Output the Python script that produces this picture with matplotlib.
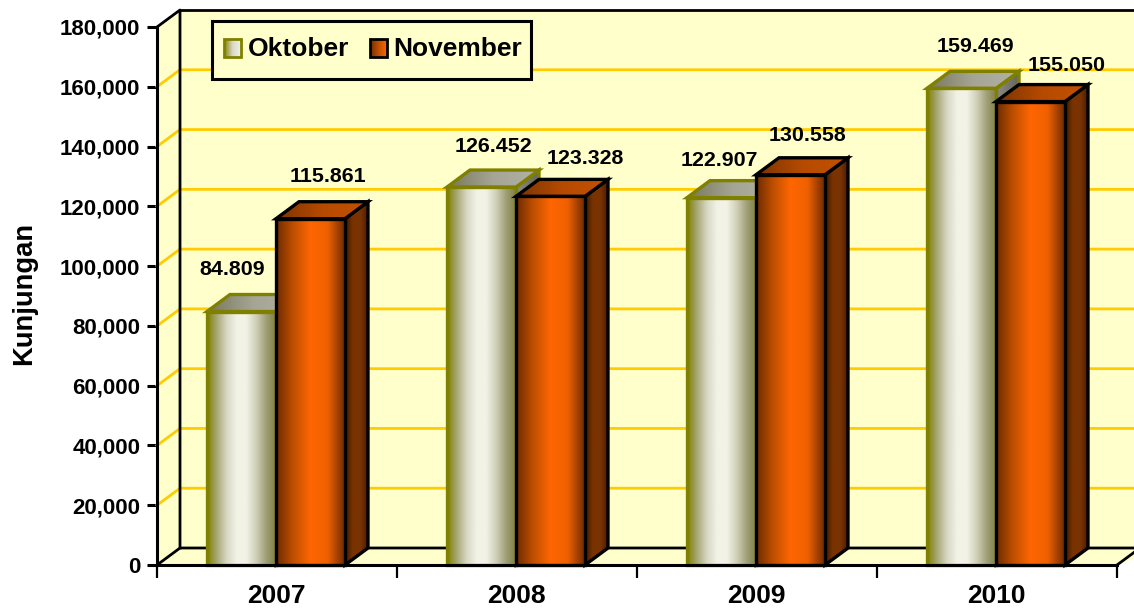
#!/usr/bin/env python3
import matplotlib
matplotlib.use('Agg')
import matplotlib.pyplot as plt
from matplotlib.colors import LinearSegmentedColormap
from matplotlib.patches import Polygon, Rectangle
import numpy as np

plt.rcParams['font.family'] = ['Liberation Sans', 'DejaVu Sans']
plt.rcParams['font.weight'] = 'bold'

# Data
years = ['2007', '2008', '2009', '2010']
series_names = ['Oktober', 'November']
oktober = [84809, 126452, 122907, 159469]
november = [115861, 123328, 130558, 155050]
y_ticks = list(range(0, 180001, 20000))

# label shift from the bar's front-top centre, in pixels (right, up)
oktober_shift = [(-9, 42), (12, 41), (-2, 37), (14, 42)]
november_shift = [(17, 42), (35, 38), (17, 39), (36, 36)]

# Layout
W, H = 1134, 610
AX_L, AX_R, AX_T, AX_B = 157, 1117, 27, 565
DEPTH_X = 23 / 240
YMAX = 180000
DEPTH_Y = 17 * YMAX / (AX_B - AX_T)
BAR_W = 69 / 240

WALL = '#ffffcc'
GRID = '#ffcc00'
OLIVE = '#808000'


def ramp(*colors):
    return LinearSegmentedColormap.from_list('r', colors)


OK_FRONT = ramp('#808000', '#a8a878', '#d8d8c4', '#f2f2e6', '#f2f2e6', '#d0d0b8', '#a0a078', '#808040')
OK_TOP = ramp('#77775c', '#a5a595', '#b2b2a6')
OK_SIDE = ramp('#8c8c80', '#66665a')
NOV_FRONT = ramp('#6e2c00', '#c04f00', '#ff6600', '#f06000', '#6e2c00')
NOV_TOP = ramp('#7a3300', '#b54a00', '#c45200')
NOV_SIDE = ramp('#3a1800', '#7a3300', '#7a3300', '#4a1e00')
OK_SWATCH = ramp('#808000', '#d8d8c4', '#f2f2e6')
NOV_SWATCH = ramp('#6e2c00', '#c04f00', '#ff6600')


def shaded(ax, pts, cmap, edge, z):
    """Polygon filled by a left-to-right gradient, with an outline."""
    pts = np.array(pts)
    grad = np.linspace(0, 1, 128).reshape(1, -1)
    extent = (pts[:, 0].min(), pts[:, 0].max(), pts[:, 1].min(), pts[:, 1].max())
    im = ax.imshow(grad, cmap=cmap, extent=extent, aspect='auto', zorder=z,
                   interpolation='bilinear')
    poly = Polygon(pts, closed=True, fill=False, edgecolor=edge, linewidth=2.4,
                   joinstyle='miter', zorder=z + 0.1, clip_on=False)
    ax.add_patch(poly)
    clip = Polygon(pts, closed=True, transform=ax.transData)
    im.set_clip_path(clip)


def bar3d(ax, x, value, cmaps, edge, z):
    x2 = x + BAR_W
    top = [(x, value), (x + DEPTH_X, value + DEPTH_Y),
           (x2 + DEPTH_X, value + DEPTH_Y), (x2, value)]
    side = [(x2, 0), (x2 + DEPTH_X, DEPTH_Y),
            (x2 + DEPTH_X, value + DEPTH_Y), (x2, value)]
    front = [(x, 0), (x2, 0), (x2, value), (x, value)]
    shaded(ax, side, cmaps[2], edge, z)
    shaded(ax, top, cmaps[1], edge, z + 0.2)
    shaded(ax, front, cmaps[0], edge, z + 0.4)


fig = plt.figure(figsize=(W / 100, H / 100), dpi=100, facecolor='white')
ax = fig.add_axes([AX_L / W, 1 - AX_B / H, (AX_R - AX_L) / W, (AX_B - AX_T) / H])
ax.patch.set_visible(False)

# back wall, side wall, floor
x_end = 4.2
ax.add_patch(Polygon([(DEPTH_X, DEPTH_Y), (x_end, DEPTH_Y), (x_end, YMAX + DEPTH_Y),
                      (DEPTH_X, YMAX + DEPTH_Y)], facecolor=WALL, edgecolor='none',
                     zorder=1, clip_on=False))
ax.add_patch(Polygon([(0, 0), (DEPTH_X, DEPTH_Y), (DEPTH_X, YMAX + DEPTH_Y), (0, YMAX)],
                     facecolor=WALL, edgecolor='none', zorder=1, clip_on=False))
ax.add_patch(Polygon([(0, 0), (DEPTH_X, DEPTH_Y), (x_end, DEPTH_Y), (4, 0)],
                     facecolor=WALL, edgecolor='none', zorder=1, clip_on=False))

for v in y_ticks[1:-1]:
    ax.plot([0, DEPTH_X, x_end], [v, v + DEPTH_Y, v + DEPTH_Y], color=GRID, lw=2.0,
            zorder=2, clip_on=False, solid_joinstyle='miter')

# wall outlines
line = dict(color='black', lw=2.0, zorder=3, clip_on=False)
ax.plot([0, DEPTH_X, DEPTH_X], [YMAX, YMAX + DEPTH_Y, DEPTH_Y], **line)
ax.plot([0, DEPTH_X, x_end], [0, DEPTH_Y, DEPTH_Y], **line)
ax.plot([DEPTH_X, x_end], [YMAX + DEPTH_Y] * 2, **line)
ax.plot([4, 4 + DEPTH_X], [0, DEPTH_Y], **line)

# bars
ok_cmaps = (OK_FRONT, OK_TOP, OK_SIDE)
nov_cmaps = (NOV_FRONT, NOV_TOP, NOV_SIDE)
for i in range(len(years)):
    centre = i + 0.5 - 1 / 240
    bar3d(ax, centre - BAR_W, oktober[i], ok_cmaps, OLIVE, 4 + i)
    bar3d(ax, centre, november[i], nov_cmaps, 'black', 4.6 + i)
    pairs = [(centre - BAR_W / 2, oktober[i], oktober_shift[i]),
             (centre + BAR_W / 2, november[i], november_shift[i])]
    for bx, val, shift in pairs:
        ax.annotate(f'{val:,}'.replace(',', '.'), xy=(bx, val),
                    xytext=(shift[0] * 0.72, shift[1] * 0.72), textcoords='offset points',
                    ha='center', va='center', fontsize=15.4, fontweight='bold',
                    color='black', zorder=20, annotation_clip=False)

# axes
ax.set_xlim(0, 4)
ax.set_ylim(0, YMAX)
for name in ['top', 'right']:
    ax.spines[name].set_visible(False)
for name in ['left', 'bottom']:
    ax.spines[name].set_linewidth(2.2)
    ax.spines[name].set_zorder(15)
ax.set_yticks(y_ticks)
ax.set_yticklabels([f'{v:,}' for v in y_ticks], fontsize=16, fontweight='bold')
ax.tick_params(axis='y', length=7.5, width=2.2, pad=4.5)
ax.set_xticks(range(5))
ax.set_xticklabels([])
ax.tick_params(axis='x', which='major', length=9, width=1.6)
ax.set_xticks([i + 0.5 - 1 / 240 for i in range(len(years))], minor=True)
ax.set_xticklabels(years, minor=True, fontsize=19, fontweight='bold')
ax.tick_params(axis='x', which='minor', length=0, pad=14)
for t in ax.get_yticklabels() + ax.get_xticklabels(minor=True):
    t.set_zorder(20)

fig.text(24 / W, 1 - 293 / H, 'Kunjungan', rotation=90, ha='center', va='center',
         fontsize=19.7, fontweight='bold')

# legend, on a pixel-sized overlay
lg = fig.add_axes([0, 0, 1, 1], zorder=30)
lg.set_xlim(0, W)
lg.set_ylim(H, 0)
lg.axis('off')
lg.add_patch(Rectangle((212, 20.5), 319, 58, facecolor=WALL, edgecolor='black', lw=2.2))
for cmap, edge, x0, name, tx in [(OK_SWATCH, OLIVE, 224, series_names[0], 248),
                                 (NOV_SWATCH, 'black', 370, series_names[1], 393)]:
    lg.imshow(np.linspace(0, 1, 64).reshape(1, -1), cmap=cmap, aspect='auto',
              extent=(x0, x0 + 17, 57, 39), zorder=2)
    lg.add_patch(Rectangle((x0, 39), 17, 18, fill=False, edgecolor=edge, lw=2, zorder=3))
    lg.text(tx, 49, name, ha='left', va='center', fontsize=19, fontweight='bold', zorder=4)
lg.set_xlim(0, W)
lg.set_ylim(H, 0)

fig.savefig('out.png', dpi=100)
